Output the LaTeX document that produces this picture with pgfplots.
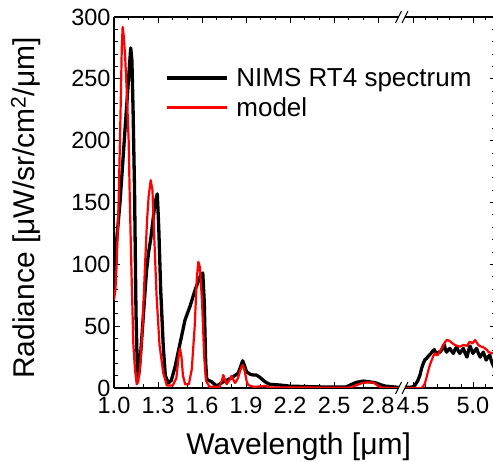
\documentclass[border=0pt]{standalone}
\usepackage{fontspec}
\setmainfont{Liberation Sans}
\usepackage{pgfplots}
\pgfplotsset{compat=1.18}
\pgfplotsset{
  common/.style={
    scale only axis, ymin=0, ymax=300,
    tick align=inside,
    major tick length=6pt, minor tick length=3.5pt,
    axis line style={line width=1.2pt},
    every tick/.style={line width=0.9pt, black},
    tick label style={font=\fontsize{23.5}{26}\selectfont, inner ysep=0.5pt},
    xticklabel style={yshift=-8.3pt},
    label style={font=\fontsize{30}{32}\selectfont},
    ytick={0,50,...,300}, minor y tick num=4,
  },
  nims/.style={black, line width=3.3pt, line join=round},
  mdl/.style={red, line width=2.2pt, line join=round},
}
\begin{document}
\begin{tikzpicture}[x=1pt,y=1pt]
\useasboundingbox (0,0) rectangle (493,462);
% left segment
\begin{axis}[common,
  at={(114pt,74pt)}, anchor=south west,
  width=284.5pt, height=371pt,
  xmin=1.0, xmax=2.939,
  axis x line*=box, axis y line*=left,
  xtick pos=both, xticklabel pos=lower,
  xtick={1.0,1.3,1.6,1.9,2.2,2.5,2.8},
  xticklabels={1.0,1.3,1.6,1.9,2.2,2.5,2.8},
  minor x tick num=2,
  yticklabels={0,50,100,150,200,250,300},
  xlabel={Wavelength [μm]},
  ylabel={Radiance [μW/sr/cm\textsuperscript{2}/μm]},
  xlabel style={at={(axis description cs:0.649,-0.158)}, anchor=center},
  ylabel style={at={(axis description cs:-0.31,0.485)}, anchor=center},
  legend style={draw=none, fill=none, at={(0.179,0.8625)}, anchor=north west,
    inner sep=0pt, row sep=9.5pt, column sep=8pt,
    nodes={inner sep=0pt}, font=\fontsize{26}{28}\selectfont},
  legend cell align=left,
  legend image code/.code={\draw[#1] (0pt,0pt) -- (60pt,0pt);},
]
\addplot[nims] coordinates {
(1.000,92) (1.005,101) (1.020,122) (1.041,150) (1.070,200) (1.098,248) (1.114,275)
(1.122,265) (1.130,225) (1.140,160) (1.150,60) (1.158,20) (1.166,9) (1.172,14)
(1.183,30) (1.195,50) (1.208,72) (1.222,95) (1.236,110) (1.250,120) (1.265,135)
(1.279,149) (1.295,157) (1.305,130) (1.318,80) (1.336,33) (1.350,10) (1.370,4)
(1.390,6) (1.416,17) (1.450,36) (1.484,55) (1.518,66) (1.552,79) (1.586,90)
(1.605,93) (1.615,70) (1.625,20) (1.632,7) (1.665,5) (1.700,1.6) (1.745,5)
(1.800,8) (1.847,12) (1.865,18) (1.877,22) (1.890,18) (1.904,13) (1.930,11)
(1.950,10.5) (1.970,10.5) (1.990,9) (2.010,7) (2.030,5) (2.060,3) (2.130,2.4)
(2.200,1.5) (2.350,1) (2.500,0.7) (2.580,0.7) (2.610,2.4) (2.650,4.5) (2.700,5.6)
(2.740,5) (2.780,4.3) (2.820,2.5) (2.850,1.5) (2.939,0.5)
};
\addlegendentry{NIMS RT4 spectrum}
\addplot[mdl] coordinates {
(1.000,71) (1.010,80) (1.018,100) (1.032,152) (1.045,225) (1.053,275) (1.059,292)
(1.066,285) (1.075,270) (1.087,240) (1.100,200) (1.108,150) (1.120,90) (1.132,35)
(1.143,15) (1.155,3) (1.165,5) (1.180,20) (1.195,50) (1.210,95) (1.225,135)
(1.236,155) (1.250,168) (1.262,160) (1.275,120) (1.290,75) (1.310,35) (1.336,12)
(1.360,2) (1.400,2) (1.425,8) (1.440,25) (1.450,32) (1.460,25) (1.470,10)
(1.485,3) (1.510,3) (1.530,15) (1.550,50) (1.565,90) (1.575,102) (1.585,98)
(1.600,70) (1.615,25) (1.627,6) (1.650,1) (1.720,1) (1.735,6) (1.745,10.5)
(1.755,7) (1.768,3) (1.785,6) (1.800,9.7) (1.812,7) (1.825,4) (1.845,8)
(1.865,16) (1.877,18.6) (1.890,14) (1.905,5) (1.915,2.4) (1.950,1) (2.000,1.2)
(2.030,1.8) (2.060,0.5) (2.600,0.2) (2.640,1.6) (2.690,4) (2.730,4.5) (2.770,4.3)
(2.800,1.6) (2.830,0.2) (2.939,0)
};
\addlegendentry{model}
\end{axis}
% right segment
\begin{axis}[common,
  at={(405pt,74pt)}, anchor=south west,
  width=91pt, height=371pt,
  xmin=4.433, xmax=5.192,
  axis x line*=box, axis y line*=right,
  xtick pos=both, xticklabel pos=lower,
  ytick pos=right,
  xtick={4.5,5.0}, xticklabels={4.5,5.0},
  minor xtick={4.6,4.7,4.8,4.9,5.1},
  yticklabels={},
]
\addplot[nims] coordinates {
(4.433,0.5) (4.475,0.5) (4.500,1) (4.517,2.4) (4.540,6) (4.558,10.5) (4.572,16)
(4.586,20) (4.600,23) (4.614,24) (4.630,26) (4.650,28) (4.665,30) (4.678,31)
(4.690,28) (4.700,27) (4.712,29) (4.725,29) (4.740,31) (4.752,34) (4.761,35)
(4.770,31) (4.780,29) (4.795,31) (4.808,32) (4.820,30) (4.836,28) (4.850,31)
(4.864,33) (4.877,30) (4.890,28) (4.905,30) (4.920,32) (4.935,28) (4.950,25)
(4.962,30) (4.975,34) (4.987,31) (5.000,28) (5.015,30) (5.030,32) (5.045,28)
(5.060,25) (5.073,27) (5.086,29) (5.098,26) (5.110,22.6) (5.125,25) (5.140,26.7)
(5.150,23) (5.160,20) (5.175,17) (5.192,15)
};
\addplot[mdl] coordinates {
(4.433,0) (4.572,0) (4.590,2) (4.600,4) (4.614,9) (4.628,14.5) (4.642,19)
(4.656,22.6) (4.670,26) (4.683,28) (4.695,27) (4.706,26.7) (4.720,29) (4.739,32)
(4.760,36) (4.780,38.8) (4.795,38.5) (4.810,37.7) (4.830,36) (4.850,34.8)
(4.870,34) (4.890,33.4) (4.905,34) (4.920,34.8) (4.935,34.5) (4.950,34)
(4.962,36) (4.975,37.4) (4.995,36) (5.017,38.8) (5.030,37) (5.044,34.8)
(5.057,34) (5.070,33.4) (5.085,33) (5.100,32) (5.115,31) (5.130,29) (5.150,28.5)
(5.165,28) (5.192,29)
};
\end{axis}
% axis break marks
\draw[line width=1pt] (395.5,68) -- (401.5,80) (402,68) -- (408,80);
\draw[line width=1pt] (395.5,439) -- (401.5,451) (402,439) -- (408,451);
\end{tikzpicture}
\end{document}
